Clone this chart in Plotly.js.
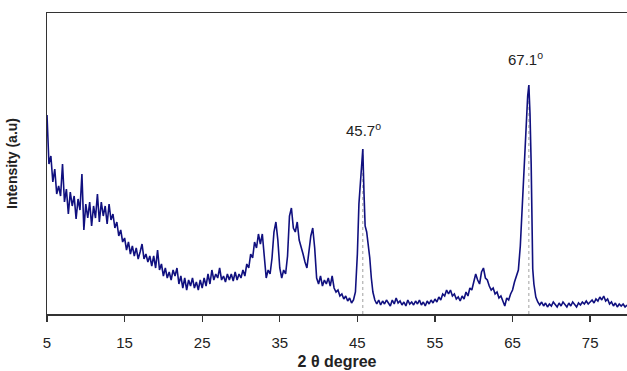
<!DOCTYPE html>
<html>
<head>
<meta charset="utf-8">
<script src="https://cdn.plot.ly/plotly-3.0.1.min.js"></script>
<style>html,body{margin:0;padding:0;background:#fff;}#chart{width:627px;height:371px;}</style>
</head>
<body>
<div id="chart"></div>
<script>
// 2θ positions (degree)
const twoTheta = [
5.00,5.25,5.50,5.75,6.00,6.25,6.50,6.75,7.00,7.25,7.50,7.75,8.00,8.25,8.50,8.75,9.00,9.25,9.50,9.75,
10.00,10.25,10.50,10.75,11.00,11.25,11.50,11.75,12.00,12.25,12.50,12.75,13.00,13.25,13.50,13.75,14.00,14.25,14.50,14.75,
15.00,15.25,15.50,15.75,16.00,16.25,16.50,16.75,17.00,17.25,17.50,17.75,18.00,18.25,18.50,18.75,19.00,19.25,19.50,19.75,
20.00,20.25,20.50,20.75,21.00,21.25,21.50,21.75,22.00,22.25,22.50,22.75,23.00,23.25,23.50,23.75,24.00,24.25,24.50,24.75,
25.00,25.25,25.50,25.75,26.00,26.25,26.50,26.75,27.00,27.25,27.50,27.75,28.00,28.25,28.50,28.75,29.00,29.25,29.50,29.75,
30.00,30.25,30.50,30.75,31.00,31.25,31.50,31.75,32.00,32.25,32.50,32.75,33.00,33.25,33.50,33.75,34.00,34.25,34.50,34.75,
35.00,35.25,35.50,35.75,36.00,36.25,36.50,36.75,37.00,37.25,37.50,37.75,38.00,38.25,38.50,38.75,39.00,39.25,39.50,39.75,
40.00,40.25,40.50,40.75,41.00,41.25,41.50,41.75,42.00,42.25,42.50,42.75,43.00,43.25,43.50,43.75,44.00,44.25,44.50,44.75,
45.00,45.20,45.40,45.50,45.70,45.85,46.00,46.20,46.40,46.60,46.80,47.00,47.25,47.50,47.75,
48.00,48.25,48.50,48.75,49.00,49.25,49.50,49.75,50.00,50.25,50.50,50.75,51.00,51.25,51.50,51.75,52.00,52.25,52.50,52.75,
53.00,53.25,53.50,53.75,54.00,54.25,54.50,54.75,55.00,55.25,55.50,55.75,56.00,56.25,56.50,56.75,57.00,57.25,57.50,57.75,
58.00,58.25,58.50,58.75,59.00,59.25,59.50,59.75,60.00,60.25,60.50,60.75,61.00,61.25,61.50,61.75,62.00,62.25,62.50,62.75,
63.00,63.25,63.50,63.75,64.00,64.25,64.50,64.75,65.00,65.25,65.50,65.75,66.00,66.20,66.40,66.60,66.80,66.95,67.10,67.25,
67.40,67.50,67.60,67.75,68.00,68.25,68.50,68.75,69.00,69.25,69.50,69.75,70.00,70.25,70.50,70.75,71.00,71.25,71.50,71.75,
72.00,72.25,72.50,72.75,73.00,73.25,73.50,73.75,74.00,74.25,74.50,74.75,75.00,75.25,75.50,75.75,76.00,76.25,76.50,76.75,
77.00,77.25,77.50,77.75,78.00,78.25,78.50,78.75,79.00,79.25,79.50,79.75
];
// Intensity (a.u.)
const intensity = [
199,150,158,132,145,120,128,118,150,112,125,100,122,108,118,95,115,104,140,84,
110,96,112,88,108,96,120,92,112,98,108,90,110,94,100,86,92,78,84,72,
76,64,72,60,68,58,66,55,62,70,55,60,52,58,48,58,46,64,44,50,
38,46,36,42,34,44,38,46,30,38,26,36,24,34,28,36,26,32,24,34,
26,36,28,40,30,44,34,40,36,46,34,38,32,40,34,40,33,42,34,40,
36,44,38,50,46,60,56,72,66,80,70,80,58,36,44,40,56,82,92,74,
46,36,44,40,58,98,106,86,82,92,74,68,60,52,46,62,78,86,66,36,
30,38,28,34,30,36,28,38,26,22,24,18,20,15,18,13,16,11,14,22,
60,110,135,152,165,122,88,82,70,56,36,22,14,10,14,
9,13,10,14,11,8,14,10,16,11,13,9,12,8,14,10,12,9,13,10,
14,9,12,8,13,10,14,11,15,12,17,14,20,18,24,20,24,18,20,15,
17,13,18,15,22,18,26,24,32,40,34,30,42,46,36,34,28,24,26,20,
22,16,18,12,8,16,14,20,24,32,38,44,68,100,140,175,200,218,229,200,
150,70,45,30,17,12,9,12,8,11,7,10,8,12,9,7,11,8,12,9,
7,11,8,12,9,7,11,9,12,10,13,10,12,14,11,15,13,17,14,18,
13,15,10,12,8,11,7,10,8,10,7,9
];
// Labelled peaks
const peakPos = [45.7, 67.1];
const peakHeight = [165, 229];
const peakLabels = ['45.7<sup>o</sup>', '67.1<sup>o</sup>'];
const xTicks = [5, 15, 25, 35, 45, 55, 65, 75];

const FONT = 'Liberation Sans, Arial, sans-serif';
const traces = [];
peakPos.forEach((p, i) => {
  traces.push({
    x: [p, p], y: [0, peakHeight[i]], mode: 'lines', type: 'scatter',
    line: {color: '#a0a0a0', width: 1, dash: 'dot'}, hoverinfo: 'skip', showlegend: false
  });
});
traces.push({
  x: twoTheta, y: intensity, mode: 'lines', type: 'scatter',
  line: {color: '#10107f', width: 1.6}, showlegend: false
});

const yShifts = [20, 27];
const xShifts = [1, -3];
const annotations = peakPos.map((p, i) => ({
  x: p, y: peakHeight[i], xref: 'x', yref: 'y', text: peakLabels[i],
  showarrow: false, yanchor: 'middle', yshift: yShifts[i], xshift: xShifts[i],
  font: {family: FONT, size: 15, color: '#222'}
}));

const layout = {
  width: 627, height: 371,
  margin: {l: 47, r: 0, t: 13, b: 57},
  paper_bgcolor: '#fff', plot_bgcolor: '#fff',
  showlegend: false,
  xaxis: {
    range: [5, 79.75], tickvals: xTicks, ticktext: xTicks.map(String),
    ticks: 'outside', ticklen: 6, tickwidth: 1.3, tickcolor: '#333',
    ticklabelstandoff: 8,
    showline: true, linecolor: '#333', linewidth: 1.5, mirror: true,
    showgrid: false, zeroline: false,
    tickfont: {family: FONT, size: 15, color: '#222'},
    title: {text: '<b>2 θ degree</b>', font: {family: FONT, size: 16, color: '#222'}, standoff: 6}
  },
  yaxis: {
    range: [0, 301], showticklabels: false, ticks: '',
    showline: true, linecolor: '#333', linewidth: 1.5,
    showgrid: false, zeroline: false,
    title: {text: '<b>Intensity (a.u)</b>', font: {family: FONT, size: 14, color: '#222'}, standoff: 24}
  },
  annotations: annotations
};

Plotly.newPlot('chart', traces, layout, {staticPlot: true, displayModeBar: false});
</script>
</body>
</html>
